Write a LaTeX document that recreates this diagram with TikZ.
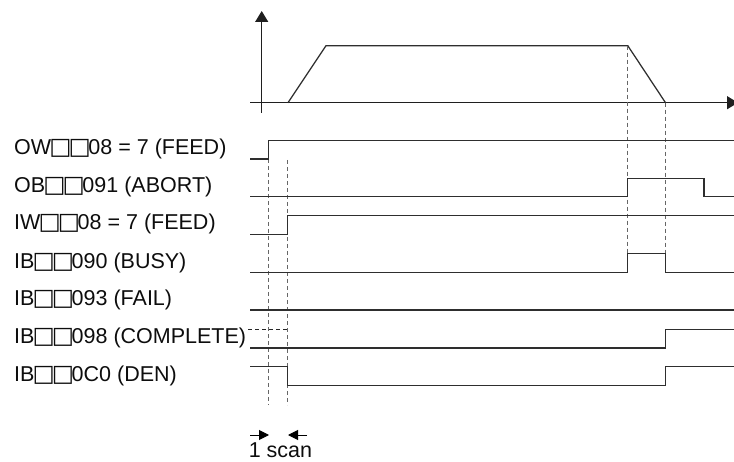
\documentclass[tikz,border=0pt]{standalone}
\usepackage{fontspec}
\setmainfont{Liberation Sans}
\newfontfamily\boxfont{DejaVu Sans}
\newcommand\bxx{{\boxfont\fontsize{23.5}{25}\selectfont\kern-1.8pt□\kern-3pt□\kern-2.4pt}}
\usetikzlibrary{arrows.meta}
\begin{document}
\begin{tikzpicture}[x=1pt,y=-1pt,
  lbl/.style={anchor=base west,inner sep=0pt,font=\fontsize{21.5}{25}\selectfont,text=black!95},
  sig/.style={line width=1.25pt,draw=black!82,line join=miter},
  axis/.style={line width=1.25pt,draw=black!88},
  guide/.style={line width=1pt,draw=black!60,dash pattern=on 4pt off 3pt},
  scanarrow/.style={line width=1pt,draw=black,-{Triangle[length=10pt,width=10pt]}}]
\useasboundingbox (0,0) rectangle (734,462);
% axes
\coordinate (yb) at (261.7,113);
\coordinate (yt) at (261.7,11);
\coordinate (xl) at (250,102.7);
\coordinate (xr) at (738,102.7);
\draw[axis,-{Triangle[length=11pt,width=13pt]}] (yb) -- (yt);
\draw[axis,-{Triangle[length=11pt,width=13pt]}] (xl) -- (xr);
% velocity profile
\coordinate (v0) at (288,102.7);
\coordinate (v1) at (326,45.7);
\coordinate (v2) at (627.8,45.7);
\coordinate (v3) at (665.5,102.7);
\draw[sig] (v0) -- (v1) -- (v2) -- (v3);
% guide lines
\coordinate (g1t) at (627.8,45.7);
\coordinate (g1b) at (627.8,253.3);
\coordinate (g2t) at (665.5,102.7);
\coordinate (g2b) at (665.5,253.3);
\coordinate (g3t) at (268.5,159);
\coordinate (g3b) at (268.5,405);
\coordinate (g4t) at (287.5,160);
\coordinate (g4b) at (287.5,405);
\draw[guide] (g1t) -- (g1b);
\draw[guide] (g2t) -- (g2b);
\draw[guide] (g3t) -- (g3b);
\draw[guide] (g4t) -- (g4b);
% labels
\node[lbl] (lOW) at (14,154.5) {OW\bxx08 = 7 (FEED)};
\node[lbl] (lAB) at (14,192.2) {OB\bxx091 (ABORT)};
\node[lbl] (lIW) at (14,230) {IW\bxx08 = 7 (FEED)};
\node[lbl] (lBU) at (14,268.2) {IB\bxx090 (BUSY)};
\node[lbl] (lFA) at (14,305.5) {IB\bxx093 (FAIL)};
\node[lbl] (lCO) at (14,343.5) {IB\bxx098 (COMPLETE)};
\node[lbl] (lDE) at (14,381.3) {IB\bxx0C0 (DEN)};
% waveforms
\draw[sig] (250,159) -- (268.5,159) -- (268.5,140.5) -- (734,140.5);
\draw[sig] (250,196.7) -- (627.8,196.7) -- (627.8,178.3) -- (704,178.3) -- (704,196.7) -- (734,196.7);
\draw[sig] (250,234.5) -- (287.5,234.5) -- (287.5,215.8) -- (734,215.8);
\draw[sig] (250,272.7) -- (627.8,272.7) -- (627.8,253.3) -- (665.5,253.3) -- (665.5,272.7) -- (734,272.7);
\draw[sig] (250,310) -- (734,310);
\draw[guide,draw=black!85] (248,329.3) -- (287.5,329.3);
\draw[sig] (250,348) -- (665.5,348) -- (665.5,329.3) -- (734,329.3);
\draw[sig] (250,366.7) -- (287.5,366.7) -- (287.5,385.8) -- (665.5,385.8) -- (665.5,366.7) -- (734,366.7);
% 1 scan
\coordinate (a1s) at (250,435);
\coordinate (a1e) at (269,435);
\coordinate (a2s) at (307,435);
\coordinate (a2e) at (288,435);
\draw[scanarrow] (a1s) -- (a1e);
\draw[scanarrow] (a2s) -- (a2e);
\node[lbl,anchor=base] (scan) at (280.5,457.5) {1 scan};
\end{tikzpicture}
\end{document}
